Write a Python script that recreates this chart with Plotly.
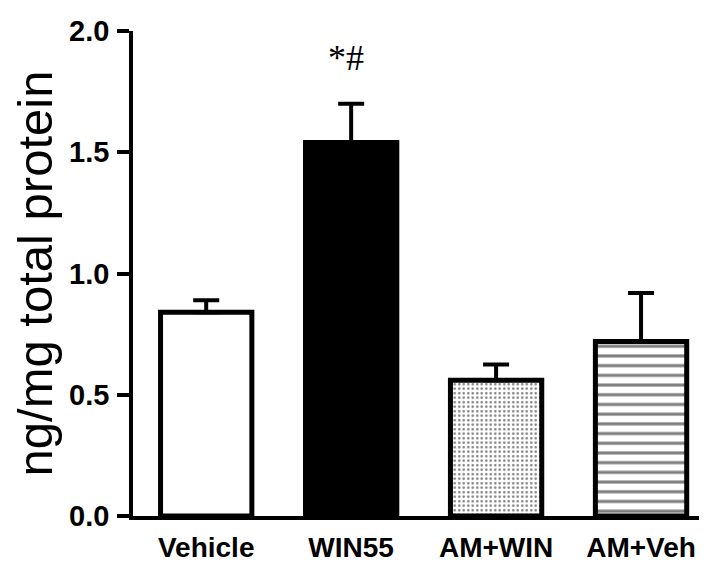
import plotly.graph_objects as go

categories = ["Vehicle", "WIN55", "AM+WIN", "AM+Veh"]
values = [0.84, 1.54, 0.56, 0.72]
errors = [0.05, 0.16, 0.065, 0.20]
y_ticks = [0.0, 0.5, 1.0, 1.5, 2.0]
y_title = "ng/mg total protein"
sig_label = "*#"

fills = ["white", "black", "white", "white"]
shapes = ["", "", ".", "-"]
pat_sizes = [8, 8, 4.5, 9.7]
pat_solid = [0.3, 0.3, 0.24, 0.32]

SANS = "Liberation Sans, Arial, sans-serif"

fig = go.Figure()
for cat, val, err, fc, shp, ps, sol in zip(categories, values, errors, fills,
                                         shapes, pat_sizes, pat_solid):
    marker = dict(color=fc, line=dict(color="black", width=5))
    if shp:
        marker["pattern"] = dict(shape=shp, fgcolor="black", bgcolor="white",
                                 size=ps, solidity=sol)
    fig.add_trace(go.Bar(
        x=[cat], y=[val], width=0.63, marker=marker,
        error_y=dict(type="data", symmetric=False, array=[err],
                     arrayminus=[0], color="black", thickness=4, width=13),
        showlegend=False,
    ))

fig.add_annotation(x=categories[1], y=1.89, text=sig_label, showarrow=False,
                   xshift=-5,
                   font=dict(family="Liberation Serif, Times New Roman, serif",
                             size=36, color="black"),
                   xanchor="center", yanchor="middle")

# page body has an 8px margin, so the figure is sized to fit the window
fig.update_layout(
    width=699, height=567,
    margin=dict(l=125, r=0, t=23, b=59, autoexpand=False),
    paper_bgcolor="white", plot_bgcolor="white",
    barmode="overlay",
    xaxis=dict(
        type="category", range=[-0.505, 3.455], automargin=False,
        showline=True, linecolor="black", linewidth=3.5,
        ticks="", showgrid=False, zeroline=False,
        tickfont=dict(family=SANS, size=28, color="black", weight="bold"),
        ticklabelstandoff=4,
    ),
    yaxis=dict(
        range=[0, 2.0], tickvals=y_ticks, tickformat=".1f", automargin=False,
        showline=True, linecolor="black", linewidth=3.5,
        ticks="outside", ticklen=12, tickwidth=3.5, tickcolor="black",
        showgrid=False, zeroline=False,
        tickfont=dict(family=SANS, size=29, color="black", weight="bold"),
        ticklabelstandoff=2,
        title=dict(text=y_title, standoff=12,
                   font=dict(family=SANS, size=49, color="black")),
    ),
)

fig.write_html("out.html")
